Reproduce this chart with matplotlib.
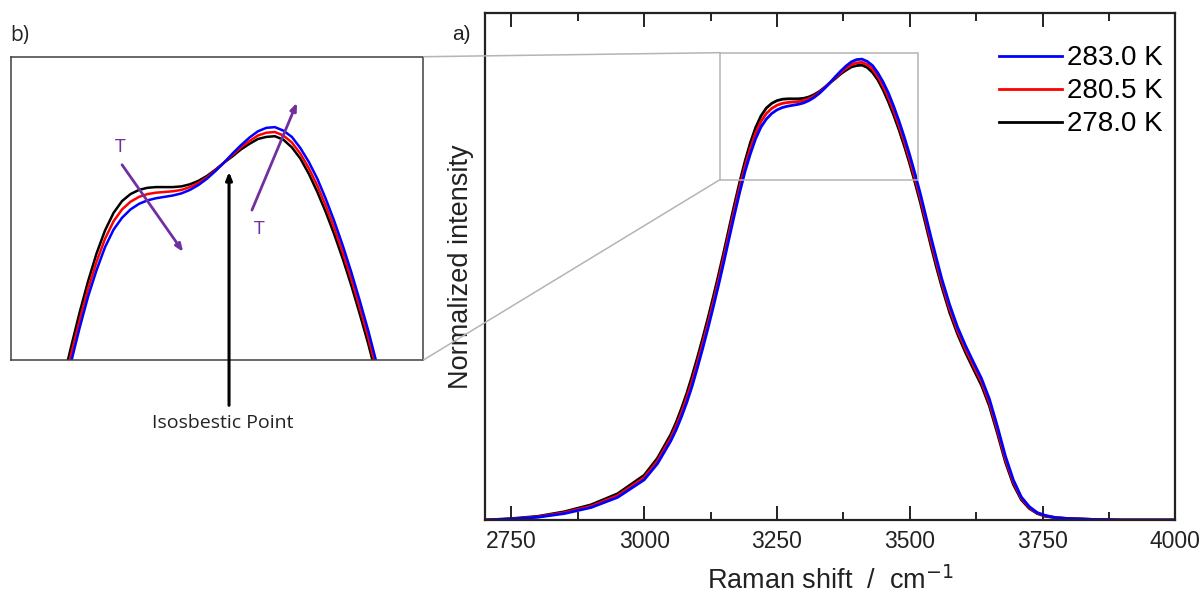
import matplotlib
matplotlib.use("Agg")
import matplotlib.pyplot as plt
from matplotlib.patches import Rectangle, ConnectionPatch
from matplotlib.ticker import MultipleLocator

# Raman OH-stretch band, normalized
RAMAN_SHIFT = [2700, 2750, 2800, 2850, 2900, 2950, 3000, 3025, 3050, 3060,
               3070, 3080, 3090, 3100, 3110, 3120, 3130, 3140, 3150, 3160,
               3170, 3180, 3190, 3200, 3210, 3220, 3230, 3240, 3250, 3260,
               3270, 3280, 3290, 3300, 3310, 3320, 3330, 3340, 3350, 3360,
               3370, 3380, 3390, 3400, 3410, 3420, 3430, 3440, 3450, 3460,
               3470, 3480, 3490, 3500, 3510, 3520, 3530, 3540, 3550, 3560,
               3575, 3590, 3605, 3620, 3635, 3650, 3665, 3680, 3695, 3710,
               3725, 3740, 3755, 3775, 3800, 3850, 3900, 4000]
I_280 = [0.000, 0.002, 0.007, 0.016, 0.030, 0.053, 0.092, 0.128, 0.178, 0.203,
         0.232, 0.264, 0.300, 0.340, 0.382, 0.426, 0.472, 0.520, 0.570, 0.622,
         0.673, 0.722, 0.767, 0.806, 0.839, 0.864, 0.881, 0.892, 0.899, 0.903,
         0.905, 0.906, 0.907, 0.909, 0.913, 0.919, 0.927, 0.937, 0.948, 0.959,
         0.970, 0.979, 0.987, 0.991, 0.992, 0.987, 0.977, 0.961, 0.940, 0.915,
         0.886, 0.854, 0.819, 0.781, 0.740, 0.697, 0.650, 0.603, 0.558, 0.515,
         0.458, 0.410, 0.370, 0.334, 0.299, 0.254, 0.195, 0.132, 0.082, 0.047,
         0.027, 0.015, 0.009, 0.005, 0.003, 0.001, 0.000, 0.000]
I_278 = [0.000, 0.003, 0.008, 0.018, 0.033, 0.057, 0.097, 0.134, 0.185, 0.211,
         0.241, 0.274, 0.311, 0.351, 0.393, 0.437, 0.483, 0.531, 0.581, 0.633,
         0.684, 0.733, 0.778, 0.818, 0.851, 0.876, 0.893, 0.903, 0.909, 0.912,
         0.913, 0.913, 0.913, 0.914, 0.917, 0.922, 0.929, 0.938, 0.948, 0.957,
         0.967, 0.975, 0.982, 0.985, 0.986, 0.981, 0.970, 0.954, 0.932, 0.906,
         0.877, 0.845, 0.810, 0.772, 0.731, 0.688, 0.641, 0.594, 0.549, 0.507,
         0.450, 0.403, 0.363, 0.327, 0.292, 0.247, 0.188, 0.126, 0.077, 0.044,
         0.025, 0.014, 0.008, 0.005, 0.003, 0.001, 0.000, 0.000]
I_283 = [0.000, 0.002, 0.006, 0.014, 0.027, 0.049, 0.087, 0.122, 0.171, 0.195,
         0.223, 0.254, 0.289, 0.329, 0.371, 0.415, 0.461, 0.509, 0.559, 0.611,
         0.662, 0.711, 0.756, 0.794, 0.827, 0.852, 0.869, 0.881, 0.889, 0.894,
         0.897, 0.899, 0.901, 0.904, 0.909, 0.916, 0.925, 0.936, 0.948, 0.961,
         0.973, 0.984, 0.993, 0.998, 0.999, 0.994, 0.985, 0.969, 0.949, 0.925,
         0.896, 0.864, 0.829, 0.791, 0.750, 0.707, 0.660, 0.613, 0.568, 0.524,
         0.467, 0.418, 0.378, 0.342, 0.307, 0.262, 0.203, 0.139, 0.087, 0.050,
         0.029, 0.016, 0.010, 0.005, 0.003, 0.001, 0.000, 0.000]

SERIES = [("278.0 K", I_278, "black"),
          ("280.5 K", I_280, "red"),
          ("283.0 K", I_283, "blue")]
LEGEND_ORDER = ["283.0 K", "280.5 K", "278.0 K"]

ZOOM_X = (3143, 3516)
ZOOM_Y = (0.738, 1.013)
INSET_X = (3099, 3585)
INSET_Y = (0.665, 1.10)

PURPLE = "#7030A0"

plt.rcParams["font.family"] = ["Liberation Sans", "DejaVu Sans"]

fig = plt.figure(figsize=(12.03, 5.97), dpi=100)
ax = fig.add_axes([0.403, 0.129, 0.574, 0.850])
ins = fig.add_axes([0.009, 0.397, 0.343, 0.508])

handles = {}
for label, y, c in SERIES:
    (h,) = ax.plot(RAMAN_SHIFT, y, color=c, lw=2.0, label=label)
    handles[label] = h
    ins.plot(RAMAN_SHIFT, y, color=c, lw=1.8)

ax.set_xlim(2700, 4000)
ax.set_ylim(0, 1.1)
ax.xaxis.set_major_locator(MultipleLocator(250))
ax.xaxis.set_minor_locator(MultipleLocator(125))
ax.set_yticks([])
ax.tick_params(axis="x", which="both", direction="in", top=True,
               labelsize=16.5, width=1.4, pad=7, colors="#222222")
ax.tick_params(axis="x", which="major", length=10)
ax.tick_params(axis="x", which="minor", length=6)
for s in ax.spines.values():
    s.set_linewidth(1.6)
    s.set_edgecolor("#222222")
ax.set_xlabel("Raman shift  /  cm$^{-1}$", fontsize=19.5, labelpad=10,
              color="#222222")
ax.set_ylabel("Normalized intensity", fontsize=19.5, labelpad=8,
              color="#222222")
ax.legend([handles[k] for k in LEGEND_ORDER], LEGEND_ORDER, loc="upper right",
          bbox_to_anchor=(1.0, 0.960), frameon=False, fontsize=20,
          handlelength=2.25, handletextpad=0.2, labelspacing=0.25,
          borderaxespad=0.05)

# zoom box on main axes
ax.add_patch(Rectangle((ZOOM_X[0], ZOOM_Y[0]), ZOOM_X[1] - ZOOM_X[0],
                       ZOOM_Y[1] - ZOOM_Y[0], fill=False,
                       edgecolor="#b4b4b4", lw=1.1, zorder=5))

ins.set_xlim(*INSET_X)
ins.set_ylim(*INSET_Y)
ins.set_xticks([])
ins.set_yticks([])
for s in ins.spines.values():
    s.set_linewidth(1.1)
    s.set_edgecolor("#404040")

for ya, yb in [(1, ZOOM_Y[1]), (0, ZOOM_Y[0])]:
    con = ConnectionPatch(xyA=(1, ya), coordsA=ins.transAxes,
                          xyB=(ZOOM_X[0], yb), coordsB=ax.transData,
                          color="#b4b4b4", lw=1.1)
    fig.add_artist(con)

# annotations in the inset
head = "-|>,head_length=0.45,head_width=0.18"
ins.annotate("", xy=(3356, 0.935), xytext=(3356, 0.60),
             arrowprops=dict(arrowstyle=head, color="black", lw=2.2,
                             shrinkA=0, shrinkB=0),
             annotation_clip=False)
ins.annotate("", xy=(3302, 0.820), xytext=(3230, 0.945),
             arrowprops=dict(arrowstyle=head, color=PURPLE, lw=2,
                             shrinkA=0, shrinkB=0))
ins.annotate("", xy=(3436, 1.034), xytext=(3383, 0.880),
             arrowprops=dict(arrowstyle=head, color=PURPLE, lw=2,
                             shrinkA=0, shrinkB=0))
ins.text(3228, 0.971, "T", color=PURPLE, fontsize=14, ha="center",
         va="center", family="Open Sans")
ins.text(3392, 0.853, "T", color=PURPLE, fontsize=14, ha="center",
         va="center", family="Open Sans")

fig.text(223 / 1203, 1 - 423 / 597, "Isosbestic Point", fontsize=14,
         ha="center", va="center", family="Open Sans", color="#222222")
fig.text(10 / 1203, 1 - 35 / 597, "b)", fontsize=15, ha="left", va="center",
         family="Open Sans", color="#222222")
fig.text(452 / 1203, 1 - 35 / 597, "a)", fontsize=15, ha="left",
         va="center", color="#222222")

fig.savefig("out.png", dpi=100)
